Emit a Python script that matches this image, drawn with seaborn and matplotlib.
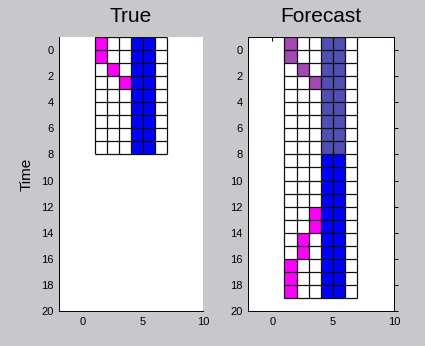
import numpy as np
import matplotlib
matplotlib.use("Agg")
import matplotlib.pyplot as plt
from matplotlib.colors import ListedColormap, BoundaryNorm
import seaborn as sns

# --- DATA ---
# cell codes: 0 empty, 1 magenta, 2 blue, 3 faded magenta, 4 faded blue
col_edges = [1, 2, 3, 4, 5, 6, 7]
true_time = [-1, 0, 1, 2, 3, 4, 5, 6, 7, 8]
true_cells = [
    [1, 0, 0, 2, 2, 0],
    [1, 0, 0, 2, 2, 0],
    [0, 1, 0, 2, 2, 0],
    [0, 0, 1, 2, 2, 0],
    [0, 0, 0, 2, 2, 0],
    [0, 0, 0, 2, 2, 0],
    [0, 0, 0, 2, 2, 0],
    [0, 0, 0, 2, 2, 0],
    [0, 0, 0, 2, 2, 0],
]
forecast_time = list(range(-1, 20))
forecast_cells = [
    [3, 0, 0, 4, 4, 0],
    [3, 0, 0, 4, 4, 0],
    [0, 3, 0, 4, 4, 0],
    [0, 0, 3, 4, 4, 0],
    [0, 0, 0, 4, 4, 0],
    [0, 0, 0, 4, 4, 0],
    [0, 0, 0, 4, 4, 0],
    [0, 0, 0, 4, 4, 0],
    [0, 0, 0, 4, 4, 0],
    [0, 0, 0, 2, 2, 0],
    [0, 0, 0, 2, 2, 0],
    [0, 0, 0, 2, 2, 0],
    [0, 0, 0, 2, 2, 0],
    [0, 0, 1, 2, 2, 0],
    [0, 0, 1, 2, 2, 0],
    [0, 1, 0, 2, 2, 0],
    [0, 1, 0, 2, 2, 0],
    [1, 0, 0, 2, 2, 0],
    [1, 0, 0, 2, 2, 0],
    [1, 0, 0, 2, 2, 0],
]
x_ticks = [0, 5, 10]
y_ticks = list(range(0, 21, 2))
titles = ["True", "Forecast"]

# --- STYLE ---
sns.set_style("white")
plt.rcParams['font.family'] = ['Liberation Sans', 'DejaVu Sans']
plt.rcParams['text.color'] = 'black'
plt.rcParams['xtick.color'] = 'black'
plt.rcParams['ytick.color'] = 'black'
BG = "#c8c8cc"
cmap = ListedColormap(["#ffffff", "#ff00ff", "#0000ff", "#a448b6", "#5050b4"])
norm = BoundaryNorm([-0.5, 0.5, 1.5, 2.5, 3.5, 4.5], cmap.N)

fig = plt.figure(figsize=(4.25, 3.46), dpi=100, facecolor=BG)
ax1 = fig.add_axes([0.1388, 0.1012, 0.3388, 0.7919])
ax2 = fig.add_axes([0.5835, 0.1012, 0.3435, 0.7919])

for ax, t, cells, title in [(ax1, true_time, true_cells, titles[0]),
                             (ax2, forecast_time, forecast_cells, titles[1])]:
    ax.set_facecolor("white")
    ax.pcolormesh(col_edges, t, np.array(cells), cmap=cmap, norm=norm, zorder=1)
    # cell outlines on top
    h = ax.hlines(t, col_edges[0], col_edges[-1], colors="#101010", lw=0.9, zorder=3)
    v = ax.vlines(col_edges, t[0], t[-1], colors="#101010", lw=0.9, zorder=3)
    h.set_snap(True)
    v.set_snap(True)
    ax.set_xlim(-2, 10)
    ax.set_ylim(20, -1)
    ax.set_xticks(x_ticks)
    ax.set_yticks(y_ticks)
    ax.tick_params(axis="x", direction="in", length=3, width=0.7,
                   labelsize=8, pad=4, colors="black")
    ax.tick_params(axis="y", direction="out", length=3, width=0.7,
                   labelsize=8, pad=1, colors="black")
    ax.set_title(title, fontsize=15, pad=11, color="black")
    for s in ax.spines.values():
        s.set_color("black")
        s.set_linewidth(0.7)

ax1.spines["top"].set_visible(False)
ax1.spines["right"].set_visible(False)
ax2.tick_params(top=True, right=True)
ax1.set_ylabel("Time", fontsize=11, labelpad=5, color="black")

fig.savefig("out.png", dpi=100, facecolor=BG)
